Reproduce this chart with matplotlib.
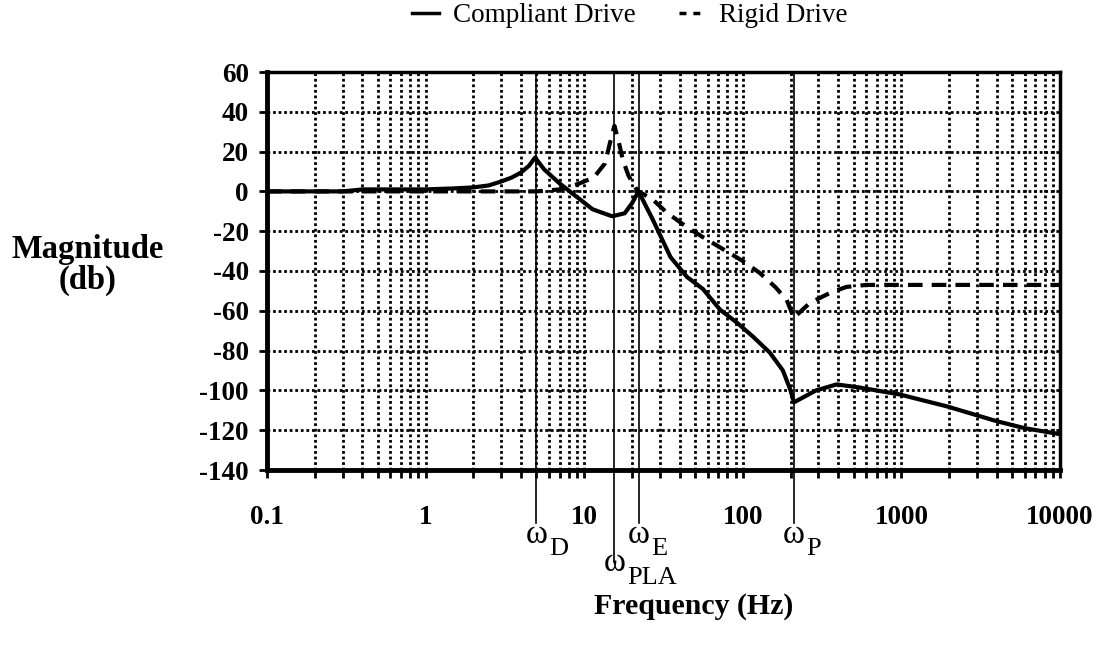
import numpy as np
import matplotlib
matplotlib.use('Agg')
import matplotlib.pyplot as plt
from matplotlib.lines import Line2D
from matplotlib.ticker import FixedLocator, FixedFormatter, NullFormatter

plt.rcParams['font.family'] = 'Liberation Serif'
plt.rcParams['axes.unicode_minus'] = False

# compliant drive magnitude (dB) vs frequency (Hz)
f_comp = [0.1, 0.3, 0.4, 1, 1.5, 2, 2.5, 3, 3.5, 4, 4.5, 4.9, 5.6, 7, 9.4, 11.3, 15, 18,
          20, 22, 27, 35, 44.5, 56, 72, 92, 116, 148, 179, 200, 210, 290, 390, 540, 970,
          1930, 4000, 6000, 10000]
db_comp = [0, 0, 1, 1, 1.5, 2, 3, 5, 7, 9.5, 13, 17, 11, 4, -4, -9, -12.5, -11,
           -6, 0, -14, -33, -43, -49, -59.5, -66, -73, -81, -90, -100, -106, -100, -97, -98.5, -102,
           -108, -115.5, -119, -122]

# rigid drive magnitude (dB) vs frequency (Hz)
f_rig = [0.1, 5, 6, 7, 9, 11.5, 13.5, 14.5, 15.5, 16.5, 17.5, 19, 21, 22, 27, 33, 44.5,
         56, 75, 100, 128, 160, 189, 210, 265, 355, 450, 600, 10000]
db_rig = [0, 0, 0.5, 1, 3.5, 7, 14, 24, 33, 25, 16, 8, 2, 0, -4, -10.5, -18,
          -23, -29, -35, -41, -48, -54.5, -63.5, -56, -51, -48, -47, -47]

# characteristic frequencies marked under the axis
w_freqs = [5, 15.5, 22, 210]
w_subs = ['D', 'PLA', 'E', 'P']

xticks = [0.1, 1, 10, 100, 1000, 10000]
xtick_labels = ['0.1', '1', '10', '100', '1000', '10000']
yticks = [-140, -120, -100, -80, -60, -40, -20, 0, 20, 40, 60]

fig = plt.figure(figsize=(11.01, 6.47), dpi=100)
ax = fig.add_axes([267 / 1101, 1 - 470 / 647, 793 / 1101, 398 / 647])

ax.plot(f_comp, db_comp, color='black', lw=3.0, solid_joinstyle='round', zorder=4)
ax.plot(f_rig, db_rig, color='black', lw=3.0, dashes=(3.5, 2.2), zorder=3)

ax.set_xscale('log')
ax.set_xlim(0.1, 10000)
ax.set_ylim(-140, 60)

minors = [m * 10.0 ** e for e in range(-1, 4) for m in range(2, 10)]
ax.xaxis.set_major_locator(FixedLocator(xticks))
ax.xaxis.set_major_formatter(FixedFormatter(xtick_labels))
ax.xaxis.set_minor_locator(FixedLocator(minors))
ax.xaxis.set_minor_formatter(NullFormatter())
ax.set_yticks(yticks)
ax.set_yticklabels([str(v) for v in yticks])

ax.grid(True, which='both', axis='x', color='black', lw=2.0, linestyle=(0, (1, 1)))
ax.grid(True, which='major', axis='y', color='black', lw=2.0, linestyle=(0, (1, 1)))

ax.tick_params(axis='x', which='both', direction='out', length=6, width=2,
               pad=19, labelsize=19.5)
ax.tick_params(axis='y', which='major', direction='out', length=6, width=2,
               pad=7, labelsize=19.5)
for lab in ax.get_xticklabels() + ax.get_yticklabels():
    lab.set_fontweight('bold')

for side in ['left', 'bottom']:
    ax.spines[side].set_linewidth(3.5)
for side in ['top', 'right']:
    ax.spines[side].set_linewidth(2.5)

# marker lines and omega labels below the axis
trans = ax.get_xaxis_transform()
for wf, sub in zip(w_freqs, w_subs):
    low = -0.23 if sub == 'PLA' else -0.133
    ax.plot([wf, wf], [1.0, low], color='black', lw=1.2, transform=trans,
            clip_on=False, zorder=2)
    y_w = -0.255 if sub == 'PLA' else -0.183
    ax.annotate('\u03c9', xy=(wf, y_w), xycoords=trans, xytext=(0, 0),
                textcoords='offset points', ha='center', va='baseline', fontsize=24)
    ax.annotate(sub, xy=(wf, y_w), xycoords=trans, xytext=(9, -9),
                textcoords='offset points', ha='left', va='baseline', fontsize=19)

fig.text(88 / 1101, 1 - 265 / 647, 'Magnitude\n(db)', ha='center', va='center',
         fontsize=23.5, fontweight='bold', linespacing=0.95)
fig.text(694 / 1101, 1 - 606 / 647, 'Frequency (Hz)', ha='center', va='center',
         fontsize=21.5, fontweight='bold')

handles = [Line2D([], [], color='black', lw=2.5),
           Line2D([], [], color='black', lw=2.5, dashes=(2, 2))]
fig.legend(handles, ['Compliant Drive', 'Rigid Drive'], loc='center',
           bbox_to_anchor=(630 / 1101, 1 - 16 / 647), ncol=2, frameon=False,
           fontsize=19.5, handlelength=1.0, handletextpad=0.5, columnspacing=1.6)

fig.savefig('out.png', dpi=100)
